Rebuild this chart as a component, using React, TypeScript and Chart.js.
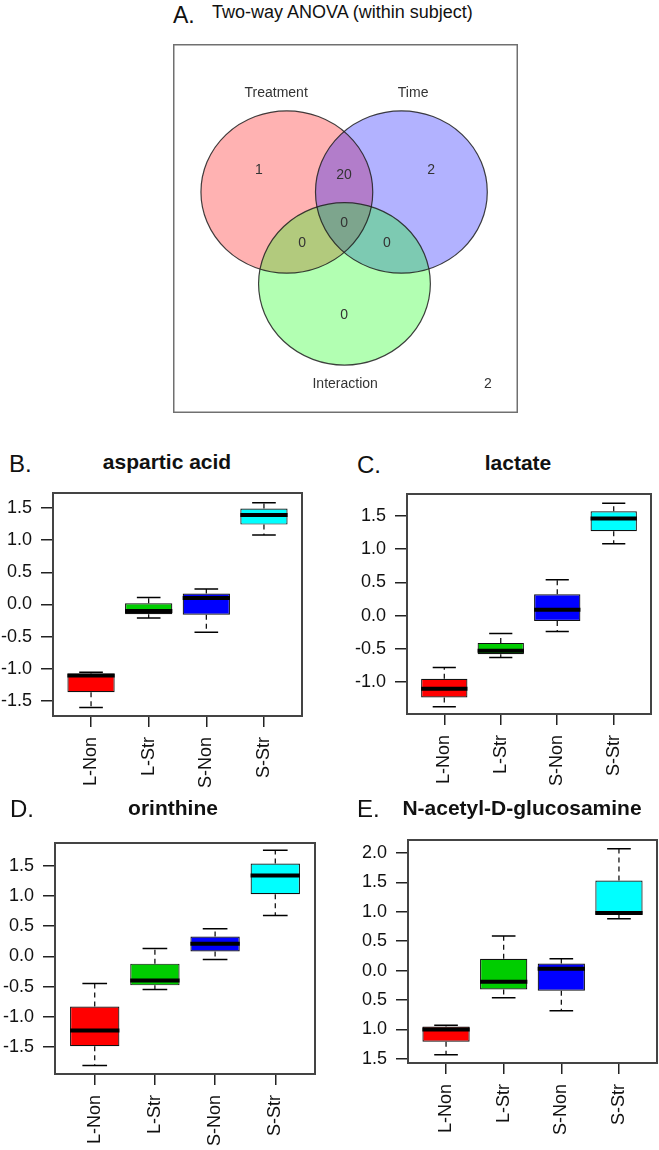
import React, { useEffect, useRef } from "react";
import { Chart, registerables } from "chart.js";
Chart.register(...registerables);

const FONT = "'Liberation Sans', Arial, Helvetica, sans-serif";

// ---------- Data ----------
const groups = ["L-Non", "L-Str", "S-Non", "S-Str"];
const groupColors = ["#ff0000", "#00cd00", "#0000ff", "#00ffff"];

// B. aspartic acid
const aspMin = [-1.6, -0.21, -0.43, 1.08];
const aspQ1 = [-1.36, -0.15, -0.16, 1.24];
const aspMed = [-1.1, -0.1, 0.1, 1.39];
const aspQ3 = [-1.07, 0.02, 0.17, 1.49];
const aspMax = [-1.05, 0.11, 0.24, 1.58];

// C. lactate
const lacMin = [-1.37, -0.63, -0.24, 1.08];
const lacQ1 = [-1.23, -0.58, -0.08, 1.27];
const lacMed = [-1.1, -0.53, 0.09, 1.46];
const lacQ3 = [-0.95, -0.41, 0.32, 1.57];
const lacMax = [-0.78, -0.27, 0.54, 1.69];

// D. orinthine
const ornMin = [-1.81, -0.55, -0.05, 0.68];
const ornQ1 = [-1.49, -0.48, 0.08, 1.03];
const ornMed = [-1.23, -0.4, 0.21, 1.34];
const ornQ3 = [-0.83, -0.12, 0.33, 1.54];
const ornMax = [-0.45, 0.13, 0.46, 1.76];

// E. N-acetyl-D-glucosamine
const glcMin = [-1.43, -0.46, -0.68, 0.88];
const glcQ1 = [-1.21, -0.32, -0.34, 0.95];
const glcMed = [-1.0, -0.19, 0.03, 0.98];
const glcQ3 = [-0.95, 0.2, 0.12, 1.53];
const glcMax = [-0.93, 0.59, 0.2, 2.07];

// tick values and labels
const ticksStd = [-1.5, -1.0, -0.5, 0.0, 0.5, 1.0, 1.5];
const ticksStdLabels = ["-1.5", "-1.0", "-0.5", "0.0", "0.5", "1.0", "1.5"];
const ticksLac = [-1.0, -0.5, 0.0, 0.5, 1.0, 1.5];
const ticksLacLabels = ["-1.0", "-0.5", "0.0", "0.5", "1.0", "1.5"];
const ticksGlc = [-1.5, -1.0, -0.5, 0.0, 0.5, 1.0, 1.5, 2.0];
const ticksGlcLabels = ["1.5", "1.0", "0.5", "0.0", "0.5", "1.0", "1.5", "2.0"];

// Venn
const vennSets = ["Treatment", "Time", "Interaction"];
const vennColors = ["rgba(255,0,0,0.3)", "rgba(0,0,255,0.3)", "rgba(0,255,0,0.3)"];
const vennCounts = ["1", "20", "2", "0", "0", "0", "0"]; // T only, T∩Ti, Ti only, all, T∩I, Ti∩I, I only
const vennOutside = "2";

// ---------- Layout (not data) ----------
const vennCircles = [
  { cx: 33.0, cy: 40.1 },
  { cx: 66.2, cy: 40.1 },
  { cx: 49.7, cy: 65.0 },
];
const vennRX = 24.9;
const vennRY = 22.0;
const vennSetLabelPos = [
  { x: 29.9, y: 13.3 },
  { x: 69.6, y: 13.3 },
  { x: 49.9, y: 92.1 },
];
const vennCountPos = [
  { x: 24.9, y: 34.1 },
  { x: 49.6, y: 35.5 },
  { x: 74.8, y: 34.1 },
  { x: 49.6, y: 48.5 },
  { x: 37.4, y: 53.9 },
  { x: 62.0, y: 53.9 },
  { x: 49.6, y: 73.4 },
];
const vennOutsidePos = { x: 91.3, y: 92.1 };

function VennChart() {
  const ref = useRef<HTMLCanvasElement>(null);
  useEffect(() => {
    const plugin = {
      id: "venn",
      afterDraw(chart: any) {
        const { ctx, chartArea } = chart;
        const xs = chart.scales.x;
        const ys = chart.scales.y;
        ctx.save();
        // circles fill
        vennCircles.forEach((c, i) => {
          const px = xs.getPixelForValue(c.cx);
          const py = ys.getPixelForValue(c.cy);
          const rx = Math.abs(xs.getPixelForValue(c.cx + vennRX) - px);
          const ry = Math.abs(ys.getPixelForValue(c.cy + vennRY) - py);
          ctx.beginPath();
          ctx.ellipse(px, py, rx, ry, 0, 0, Math.PI * 2);
          ctx.fillStyle = vennColors[i];
          ctx.fill();
        });
        vennCircles.forEach((c) => {
          const px = xs.getPixelForValue(c.cx);
          const py = ys.getPixelForValue(c.cy);
          const rx = Math.abs(xs.getPixelForValue(c.cx + vennRX) - px);
          const ry = Math.abs(ys.getPixelForValue(c.cy + vennRY) - py);
          ctx.beginPath();
          ctx.ellipse(px, py, rx, ry, 0, 0, Math.PI * 2);
          ctx.strokeStyle = "rgba(30,30,30,0.85)";
          ctx.lineWidth = 1.2;
          ctx.stroke();
        });
        ctx.fillStyle = "#333";
        ctx.font = `14px ${FONT}`;
        ctx.textAlign = "center";
        ctx.textBaseline = "middle";
        vennSets.forEach((s, i) => {
          ctx.fillText(s, xs.getPixelForValue(vennSetLabelPos[i].x), ys.getPixelForValue(vennSetLabelPos[i].y));
        });
        vennCounts.forEach((s, i) => {
          ctx.fillText(s, xs.getPixelForValue(vennCountPos[i].x), ys.getPixelForValue(vennCountPos[i].y));
        });
        ctx.fillText(vennOutside, xs.getPixelForValue(vennOutsidePos.x), ys.getPixelForValue(vennOutsidePos.y));
        // frame
        ctx.strokeStyle = "#707070";
        ctx.lineWidth = 1.5;
        ctx.strokeRect(chartArea.left + 0.75, chartArea.top + 0.75, chartArea.right - chartArea.left - 1.5, chartArea.bottom - chartArea.top - 1.5);
        ctx.restore();
      },
    };
    const chart = new Chart(ref.current!, {
      type: "scatter",
      data: { datasets: [{ data: [] }] },
      options: {
        animation: false,
        responsive: false,
        layout: { padding: 0 },
        plugins: { legend: { display: false }, tooltip: { enabled: false } },
        scales: {
          x: { type: "linear", min: 0, max: 100, display: false },
          y: { type: "linear", min: 0, max: 100, reverse: true, display: false },
        },
      },
      plugins: [plugin],
    } as any);
    return () => chart.destroy();
  }, []);
  return (
    <canvas
      ref={ref}
      width={345}
      height={369}
      style={{ position: "absolute", left: 173, top: 44, width: 345, height: 369 }}
    />
  );
}

type BoxProps = {
  plot: { l: number; t: number; r: number; b: number };
  yMin: number;
  yMax: number;
  tickVals: number[];
  tickLabels: string[];
  mins: number[];
  q1: number[];
  med: number[];
  q3: number[];
  maxs: number[];
};

const AX_W = 60;
const AX_H = 90;
const PAD_T = 10;
const PAD_R = 8;

function BoxChart(p: BoxProps) {
  const ref = useRef<HTMLCanvasElement>(null);
  const w = p.plot.r - p.plot.l + AX_W + PAD_R;
  const h = p.plot.b - p.plot.t + PAD_T + AX_H;
  useEffect(() => {
    const plugin = {
      id: "boxExtras",
      beforeDatasetsDraw(chart: any) {
        const ctx = chart.ctx;
        const ys = chart.scales.y;
        const meta = chart.getDatasetMeta(0);
        ctx.save();
        ctx.strokeStyle = "#000";
        meta.data.forEach((bar: any, i: number) => {
          const { x, width } = bar.getProps(["x", "width"], true);
          const capHalf = width / 4;
          ctx.lineWidth = 1.2;
          ctx.setLineDash([5, 4]);
          ctx.beginPath();
          ctx.moveTo(x, ys.getPixelForValue(p.q3[i]));
          ctx.lineTo(x, ys.getPixelForValue(p.maxs[i]));
          ctx.moveTo(x, ys.getPixelForValue(p.q1[i]));
          ctx.lineTo(x, ys.getPixelForValue(p.mins[i]));
          ctx.stroke();
          ctx.setLineDash([]);
          ctx.lineWidth = 1.5;
          ctx.beginPath();
          ctx.moveTo(x - capHalf, ys.getPixelForValue(p.maxs[i]));
          ctx.lineTo(x + capHalf, ys.getPixelForValue(p.maxs[i]));
          ctx.moveTo(x - capHalf, ys.getPixelForValue(p.mins[i]));
          ctx.lineTo(x + capHalf, ys.getPixelForValue(p.mins[i]));
          ctx.stroke();
        });
        ctx.restore();
      },
      afterDatasetsDraw(chart: any) {
        const ctx = chart.ctx;
        const ys = chart.scales.y;
        const meta = chart.getDatasetMeta(0);
        ctx.save();
        ctx.strokeStyle = "#000";
        ctx.lineWidth = 4;
        meta.data.forEach((bar: any, i: number) => {
          const { x, width } = bar.getProps(["x", "width"], true);
          const y = ys.getPixelForValue(p.med[i]);
          ctx.beginPath();
          ctx.moveTo(x - width / 2, y);
          ctx.lineTo(x + width / 2, y);
          ctx.stroke();
        });
        const a = chart.chartArea;
        ctx.strokeStyle = "#444";
        ctx.lineWidth = 2;
        ctx.strokeRect(a.left, a.top, a.right - a.left, a.bottom - a.top);
        ctx.restore();
      },
    };
    const zeroPad = (s: any) => {
      s.paddingLeft = 0;
      s.paddingRight = 0;
      s.paddingTop = 0;
      s.paddingBottom = 0;
    };
    const chart = new Chart(ref.current!, {
      type: "bar",
      data: {
        datasets: [
          {
            data: groups.map((_, i) => ({ x: i + 1, y: [p.q1[i], p.q3[i]] })),
            backgroundColor: groupColors,
            borderColor: "#111",
            borderWidth: 1.2,
            borderSkipped: false,
            barPercentage: 0.82,
            categoryPercentage: 1,
          },
        ],
      },
      options: {
        animation: false,
        responsive: false,
        layout: { padding: { top: PAD_T, right: PAD_R, left: 0, bottom: 0 } },
        plugins: { legend: { display: false }, tooltip: { enabled: false }, title: { display: false } },
        scales: {
          x: {
            type: "linear",
            min: 0.34,
            max: 4.66,
            offset: false,
            afterBuildTicks: (s: any) => {
              s.ticks = groups.map((_, i) => ({ value: i + 1 }));
            },
            afterFit: (s: any) => {
              s.height = AX_H;
              zeroPad(s);
            },
            ticks: {
              autoSkip: false,
              maxRotation: 90,
              minRotation: 90,
              padding: 10,
              color: "#111",
              font: { family: FONT, size: 18 },
              callback: (_v: any, i: number) => groups[i],
            },
            grid: {
              offset: false,
              drawOnChartArea: false,
              drawTicks: true,
              tickLength: 11,
              color: "#222",
              lineWidth: 1.5,
            },
            border: { display: false },
          },
          y: {
            type: "linear",
            min: p.yMin,
            max: p.yMax,
            afterBuildTicks: (s: any) => {
              s.ticks = p.tickVals.map((v) => ({ value: v }));
            },
            afterFit: (s: any) => {
              s.width = AX_W;
              zeroPad(s);
            },
            ticks: {
              padding: 9,
              color: "#111",
              font: { family: FONT, size: 18 },
              callback: (_v: any, i: number) => p.tickLabels[i],
            },
            grid: {
              drawOnChartArea: false,
              drawTicks: true,
              tickLength: 12,
              color: "#222",
              lineWidth: 1.5,
            },
            border: { display: false },
          },
        },
      },
      plugins: [plugin],
    } as any);
    return () => chart.destroy();
  }, []);
  return (
    <canvas
      ref={ref}
      width={w}
      height={h}
      style={{ position: "absolute", left: p.plot.l - AX_W, top: p.plot.t - PAD_T, width: w, height: h }}
    />
  );
}

function Txt(props: { x: number; base: number; size: number; bold?: boolean; center?: boolean; children: string }) {
  const { x, base, size, bold, center } = props;
  const top = base - 0.8465 * size;
  const style: any = {
    position: "absolute",
    top,
    fontSize: size,
    lineHeight: `${size}px`,
    fontWeight: bold ? "bold" : "normal",
    fontFamily: FONT,
    color: "#111",
    whiteSpace: "nowrap",
  };
  if (center) {
    style.left = x - 200;
    style.width = 400;
    style.textAlign = "center";
  } else {
    style.left = x;
  }
  return <div style={style}>{props.children}</div>;
}

export default function App() {
  return (
    <div
      style={{
        position: "absolute",
        left: 0,
        top: 0,
        width: 659,
        height: 1150,
        overflow: "hidden",
        background: "#fff",
        fontFamily: FONT,
      }}
    >
      <Txt x={173} base={23} size={23}>A.</Txt>
      <Txt x={212} base={18} size={18}>Two-way ANOVA (within subject)</Txt>
      <VennChart />

      <Txt x={9} base={472} size={24}>B.</Txt>
      <Txt x={167} base={469} size={21} bold center>aspartic acid</Txt>
      <BoxChart
        plot={{ l: 53, t: 493, r: 302, b: 716 }}
        yMin={-1.73}
        yMax={1.73}
        tickVals={ticksStd}
        tickLabels={ticksStdLabels}
        mins={aspMin}
        q1={aspQ1}
        med={aspMed}
        q3={aspQ3}
        maxs={aspMax}
      />

      <Txt x={357} base={473} size={24}>C.</Txt>
      <Txt x={518} base={470} size={21} bold center>lactate</Txt>
      <BoxChart
        plot={{ l: 407, t: 494, r: 651, b: 714 }}
        yMin={-1.48}
        yMax={1.83}
        tickVals={ticksLac}
        tickLabels={ticksLacLabels}
        mins={lacMin}
        q1={lacQ1}
        med={lacMed}
        q3={lacQ3}
        maxs={lacMax}
      />

      <Txt x={10} base={817} size={24}>D.</Txt>
      <Txt x={173} base={815} size={21} bold center>orinthine</Txt>
      <BoxChart
        plot={{ l: 55, t: 843, r: 315, b: 1074 }}
        yMin={-1.95}
        yMax={1.88}
        tickVals={ticksStd}
        tickLabels={ticksStdLabels}
        mins={ornMin}
        q1={ornQ1}
        med={ornMed}
        q3={ornQ3}
        maxs={ornMax}
      />

      <Txt x={357} base={817} size={24}>E.</Txt>
      <Txt x={522} base={815} size={21} bold center>N-acetyl-D-glucosamine</Txt>
      <BoxChart
        plot={{ l: 408, t: 840, r: 657, b: 1063 }}
        yMin={-1.57}
        yMax={2.22}
        tickVals={ticksGlc}
        tickLabels={ticksGlcLabels}
        mins={glcMin}
        q1={glcQ1}
        med={glcMed}
        q3={glcQ3}
        maxs={glcMax}
      />
    </div>
  );
}
